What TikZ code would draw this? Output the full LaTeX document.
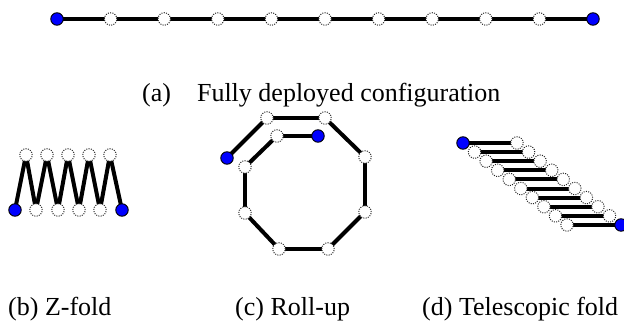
\documentclass[tikz,border=0pt]{standalone}
\usepackage{fontspec}
\setmainfont{Liberation Serif}
\pgfdeclarelayer{bg}
\pgfsetlayers{bg,main}
\tikzset{
  joint/.style={circle, draw=black!85, dash pattern=on 1pt off 1.3pt, line width=1pt, fill=white, minimum size=12.5pt, inner sep=0pt},
  endjoint/.style={circle, draw=black, line width=0.9pt, fill=blue, minimum size=12.5pt, inner sep=0pt},
  link/.style={line width=4pt, black},
  captext/.style={font=\fontsize{26pt}{30pt}\selectfont, inner sep=0pt, anchor=base west}
}
\begin{document}
\begin{tikzpicture}[x=1pt,y=-1pt]
\useasboundingbox (0,0) rectangle (624,331);
% (a) deployed
\node[endjoint] (a0) at (57,19) {};
\foreach \i in {1,...,9} { \node[joint] (a\i) at (57+53.6*\i,19) {}; }
\node[endjoint] (a10) at (593,19) {};
\begin{pgfonlayer}{bg}
\foreach \i [evaluate=\i as \j using int(\i+1)] in {0,...,9} { \draw[link] (a\i.center) -- (a\j.center); }
\end{pgfonlayer}
\node[captext] (capa) at (142,102) {(a)\hspace{26pt}Fully deployed configuration};
% (b) Z-fold
\node[endjoint] (z0) at (15,210) {};
\node[joint] (z1) at (26,155) {};
\node[joint] (z2) at (36,210) {};
\node[joint] (z3) at (47,155) {};
\node[joint] (z4) at (58,210) {};
\node[joint] (z5) at (68,155) {};
\node[joint] (z6) at (79,210) {};
\node[joint] (z7) at (89,155) {};
\node[joint] (z8) at (100,210) {};
\node[joint] (z9) at (110,155) {};
\node[endjoint] (z10) at (122,210) {};
\begin{pgfonlayer}{bg}
\foreach \i [evaluate=\i as \j using int(\i+1)] in {0,...,9} { \draw[link, line join=miter] (z\i.center) -- (z\j.center); }
\end{pgfonlayer}
% (c) Roll-up
\node[endjoint] (r0) at (227,158) {};
\node[joint] (r1) at (267,118) {};
\node[joint] (r2) at (325,118) {};
\node[joint] (r3) at (365,157) {};
\node[joint] (r4) at (365,212) {};
\node[joint] (r5) at (328,249) {};
\node[joint] (r6) at (279,249) {};
\node[joint] (r7) at (245,213) {};
\node[joint] (r8) at (245,167) {};
\node[joint] (r9) at (277,136) {};
\node[endjoint] (r10) at (318,136) {};
\begin{pgfonlayer}{bg}
\foreach \i [evaluate=\i as \j using int(\i+1)] in {0,...,9} { \draw[link] (r\i.center) -- (r\j.center); }
\end{pgfonlayer}
% (d) Telescopic
\foreach \k in {0,...,9} {
  \coordinate (tl\k) at (463+11.56*\k,143+9.11*\k);
}
\begin{pgfonlayer}{bg}
\foreach \k in {0,...,9} { \draw[link] (tl\k) -- ++(54,0) coordinate (tr\k); }
\end{pgfonlayer}
\node[endjoint] (d0l) at (tl0) {};
\foreach \k in {1,...,9} { \node[joint] (d\k l) at (tl\k) {}; }
\foreach \k in {0,...,8} { \node[joint] (d\k r) at (tr\k) {}; }
\node[endjoint] (d9r) at (tr9) {};
% captions
\node[captext] (capb) at (8,315) {(b) Z-fold};
\node[captext] (capc) at (235,315) {(c) Roll-up};
\node[captext] (capd) at (422,315) {(d) Telescopic fold};
\end{tikzpicture}
\end{document}
